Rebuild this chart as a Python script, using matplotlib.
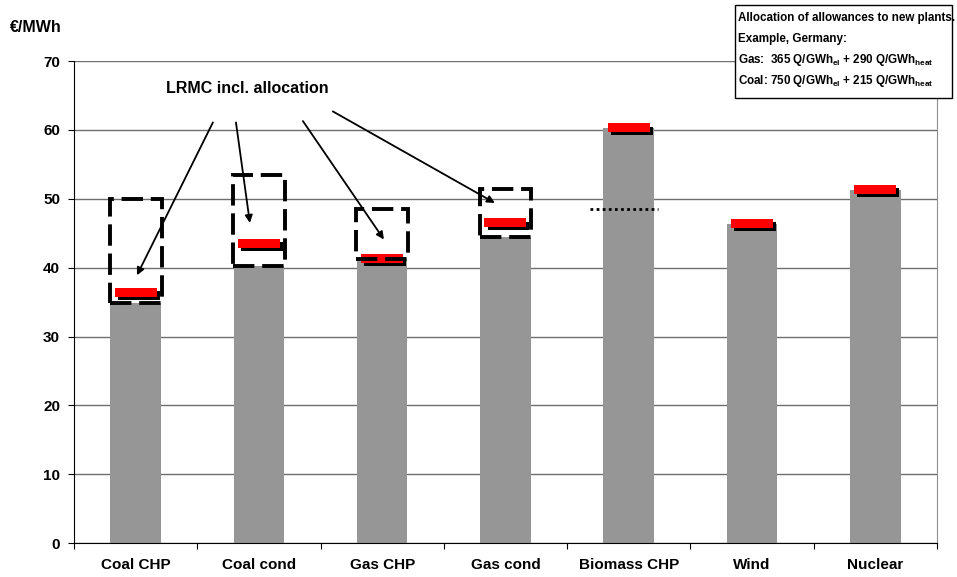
import matplotlib
matplotlib.use('Agg')
import matplotlib.pyplot as plt
from matplotlib.patches import Rectangle
import matplotlib.patheffects as pe

plt.rcParams['font.family'] = ['Liberation Sans', 'DejaVu Sans']
plt.rcParams['font.weight'] = 'bold'
plt.rcParams['mathtext.fontset'] = 'custom'
plt.rcParams['mathtext.rm'] = 'Liberation Sans:bold'
plt.rcParams['mathtext.bf'] = 'Liberation Sans:bold'
plt.rcParams['mathtext.default'] = 'bf'

# data
categories = ['Coal CHP', 'Coal cond', 'Gas CHP', 'Gas cond', 'Biomass CHP', 'Wind', 'Nuclear']
lrmc = [34.9, 40.2, 41.2, 44.4, 60.3, 46.4, 51.3]          # grey bars
lrmc_alloc = [36.4, 43.5, 41.4, 46.5, 60.3, 46.4, 51.3]    # red markers
box_top = [50.0, 53.4, 48.5, 51.4]                         # dashed boxes (first four)
biomass_ref = 48.5                                         # dotted line at biomass
yticks = [0, 10, 20, 30, 40, 50, 60, 70]
note_lines = ['Allocation of allowances to new plants.',
              'Example, Germany:',
              r'Gas:  365 Q/GWh$_{el}$ + 290 Q/GWh$_{heat}$',
              r'Coal: 750 Q/GWh$_{el}$ + 215 Q/GWh$_{heat}$']

W, H = 957, 577
fig = plt.figure(figsize=(W / 100, H / 100), dpi=100)
ax = fig.add_axes([0.0773, 0.0589, 0.9017, 0.8351])

x = list(range(len(categories)))

ax.bar(x, lrmc, width=0.41, color='#969696', zorder=2)

# red markers with black drop shadow
ax.bar(x, [1.3] * len(x), bottom=[v - 0.65 for v in lrmc_alloc], width=0.34,
       color='#ff0000', zorder=4,
       path_effects=[pe.SimplePatchShadow(offset=(2.2, -2.2), shadow_rgbFace='black', alpha=1.0),
                     pe.Normal()])

# dashed boxes
for i, top in enumerate(box_top):
    r = Rectangle((i - 0.21, lrmc[i]), 0.42, top - lrmc[i], fill=False,
                  edgecolor='black', lw=2.8, linestyle=(0, (5.5, 2.0)), zorder=5)
    ax.add_patch(r)

# dotted line at biomass
ax.plot([3.685, 4.236], [biomass_ref, biomass_ref], color='black', lw=2.0,
        linestyle=(0, (1, 1.2)), zorder=5)

# annotation arrows
ax.text(0.25, 66.1, 'LRMC incl. allocation', fontsize=11.5, fontweight='bold', va='center')
arrows = [((0.627, 61.1), (0.011, 38.9)),
          ((0.814, 61.1), (0.927, 46.5)),
          ((1.357, 61.3), (2.014, 44.1)),
          ((1.60, 62.7), (2.914, 49.4))]
for start, end in arrows:
    ax.annotate('', xy=end, xytext=start,
                arrowprops=dict(arrowstyle='-|>', color='black', lw=1.3,
                                mutation_scale=11, shrinkA=0, shrinkB=0),
                zorder=6)

ax.set_xlim(-0.5, len(categories) - 0.5)
ax.set_ylim(0, 70)
ax.set_yticks(yticks)
ax.set_yticklabels([str(t) for t in yticks], fontsize=11, fontweight='bold')
ax.yaxis.grid(True, color='#6e6e6e', lw=1.0, zorder=1)
ax.set_axisbelow(True)

ax.set_xticks([i - 0.5 for i in range(len(categories) + 1)])
ax.set_xticklabels([])
ax.set_xticks(x, minor=True)
ax.set_xticklabels(categories, minor=True, fontsize=11, fontweight='bold')
ax.tick_params(axis='x', which='minor', length=0, pad=11)
ax.tick_params(axis='x', which='major', length=4, color='black')
ax.tick_params(axis='y', length=4, pad=6)

ax.spines['top'].set_visible(False)
ax.spines['right'].set_color('#909090')
ax.spines['left'].set_color('black')
ax.spines['bottom'].set_color('black')

fig.text(0.010, 0.953, '€/MWh', fontsize=11.5, fontweight='bold', va='center')

# note box, top right
fig.patches.append(Rectangle((735 / W, 1 - 98 / H), 217 / W, 93 / H, transform=fig.transFigure,
                             facecolor='white', edgecolor='black', lw=1.0))
for k, line in enumerate(note_lines):
    fig.text(738 / W, 1 - (18 + 21 * k) / H, line, fontsize=8.4, fontweight='bold',
             ha='left', va='center')

fig.savefig('out.png', dpi=100)
